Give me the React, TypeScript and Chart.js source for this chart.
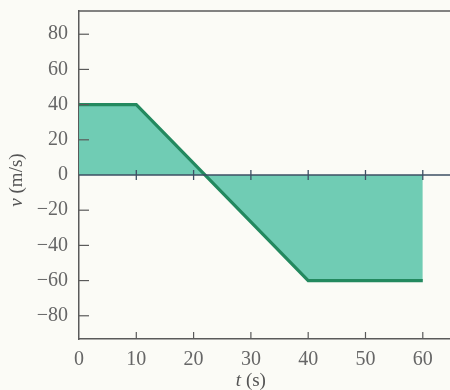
import React, { useEffect, useRef } from "react";
import { Chart, registerables } from "chart.js";

Chart.register(...registerables);

const times = [0, 10, 40, 60];
const velocities = [40, 40, -60, -60];
const xTickValues = [0, 10, 20, 30, 40, 50, 60];
const yTickValues = [-80, -60, -40, -20, 0, 20, 40, 60, 80];
const xTitle = "t";
const xUnit = " (s)";
const yTitle = "v";
const yUnit = " (m/s)";

const SERIF = "'Liberation Serif', 'DejaVu Serif', serif";
const AXIS = "#5a5a5a";

const decorPlugin = {
  id: "decor",
  afterDraw(chart: any) {
    const { ctx, chartArea, scales } = chart;
    const xs = scales.x;
    const ys = scales.y;
    ctx.save();
    ctx.strokeStyle = AXIS;
    ctx.lineWidth = 1.5;
    ctx.beginPath();
    ctx.moveTo(chartArea.left, chartArea.top);
    ctx.lineTo(chartArea.right, chartArea.top);
    ctx.stroke();
    ctx.lineWidth = 1.2;
    yTickValues.forEach((v) => {
      if (v === 0) return;
      const y = ys.getPixelForValue(v);
      ctx.beginPath();
      ctx.moveTo(chartArea.left, y);
      ctx.lineTo(chartArea.left + 10, y);
      ctx.stroke();
    });
    xTickValues.forEach((v) => {
      if (v === 0) return;
      const x = xs.getPixelForValue(v);
      ctx.beginPath();
      ctx.moveTo(x, chartArea.bottom);
      ctx.lineTo(x, chartArea.bottom - 7);
      ctx.stroke();
    });
    const y0 = ys.getPixelForValue(0);
    ctx.strokeStyle = "#3d4f63";
    ctx.lineWidth = 1.3;
    ctx.beginPath();
    ctx.moveTo(chartArea.left, y0);
    ctx.lineTo(chartArea.right, y0);
    ctx.stroke();
    xTickValues.forEach((v) => {
      if (v === 0) return;
      const x = xs.getPixelForValue(v);
      ctx.beginPath();
      ctx.moveTo(x, y0 - 5);
      ctx.lineTo(x, y0 + 5);
      ctx.stroke();
    });
    ctx.fillStyle = "#555";
    ctx.textBaseline = "middle";
    const italicFont = "italic 19px " + SERIF;
    const normalFont = "19px " + SERIF;
    ctx.font = italicFont;
    const wT = ctx.measureText(xTitle).width;
    ctx.font = normalFont;
    const wU = ctx.measureText(xUnit).width;
    const cx = xs.getPixelForValue(30);
    let sx = cx - (wT + wU) / 2;
    ctx.textAlign = "left";
    ctx.font = italicFont;
    ctx.fillText(xTitle, sx, 381);
    ctx.font = normalFont;
    ctx.fillText(xUnit, sx + wT, 381);
    ctx.save();
    ctx.translate(17, 180);
    ctx.rotate(-Math.PI / 2);
    ctx.font = italicFont;
    const wV = ctx.measureText(yTitle).width;
    ctx.font = normalFont;
    const wM = ctx.measureText(yUnit).width;
    sx = -(wV + wM) / 2;
    ctx.font = italicFont;
    ctx.fillText(yTitle, sx, 0);
    ctx.font = normalFont;
    ctx.fillText(yUnit, sx + wV, 0);
    ctx.restore();
    ctx.restore();
  },
};

const bgPlugin = {
  id: "bg",
  beforeDraw(chart: any) {
    const { ctx, width, height } = chart;
    ctx.save();
    ctx.fillStyle = "#fbfbf6";
    ctx.fillRect(0, 0, width, height);
    ctx.restore();
  },
};

export default function App() {
  const ref = useRef<HTMLCanvasElement>(null);
  useEffect(() => {
    document.body.style.margin = "0";
    const chart = new Chart(ref.current!, {
      type: "line",
      data: {
        datasets: [
          {
            data: times.map((t, i) => ({ x: t, y: velocities[i] })),
            borderColor: "#23895f",
            borderWidth: 3.2,
            backgroundColor: "rgba(104,201,176,0.95)",
            fill: "origin",
            pointRadius: 0,
            tension: 0,
          },
        ],
      },
      options: {
        animation: false,
        responsive: false,
        layout: { padding: { top: 11, right: 0, left: 0, bottom: 0 } },
        plugins: { legend: { display: false }, tooltip: { enabled: false } },
        scales: {
          x: {
            type: "linear",
            min: 0,
            max: 64.75,
            afterBuildTicks: (s: any) => {
              s.ticks = xTickValues.map((v) => ({ value: v }));
            },
            afterFit: (s: any) => {
              s.height = 51;
              s.paddingLeft = 0;
              s.paddingRight = 0;
            },
            grid: { display: false },
            border: { display: true, color: AXIS, width: 1.5 },
            ticks: {
              color: "#666",
              font: { family: SERIF, size: 20 },
              padding: 1,
              maxRotation: 0,
              autoSkip: false,
            },
          },
          y: {
            type: "linear",
            min: -93.2,
            max: 93.2,
            afterBuildTicks: (s: any) => {
              s.ticks = yTickValues.map((v) => ({ value: v }));
            },
            afterFit: (s: any) => {
              s.width = 79;
              s.paddingTop = 0;
              s.paddingBottom = 0;
            },
            grid: { display: false },
            border: { display: true, color: AXIS, width: 1.5 },
            ticks: {
              color: "#666",
              font: { family: SERIF, size: 20 },
              padding: 3,
              autoSkip: false,
              callback: (v: any) => (Number(v) < 0 ? "\u2212" + Math.abs(Number(v)) : String(v)),
            },
          },
        },
      },
      plugins: [bgPlugin, decorPlugin],
    });
    return () => chart.destroy();
  }, []);
  return <canvas ref={ref} width={450} height={390} style={{ display: "block" }} />;
}
